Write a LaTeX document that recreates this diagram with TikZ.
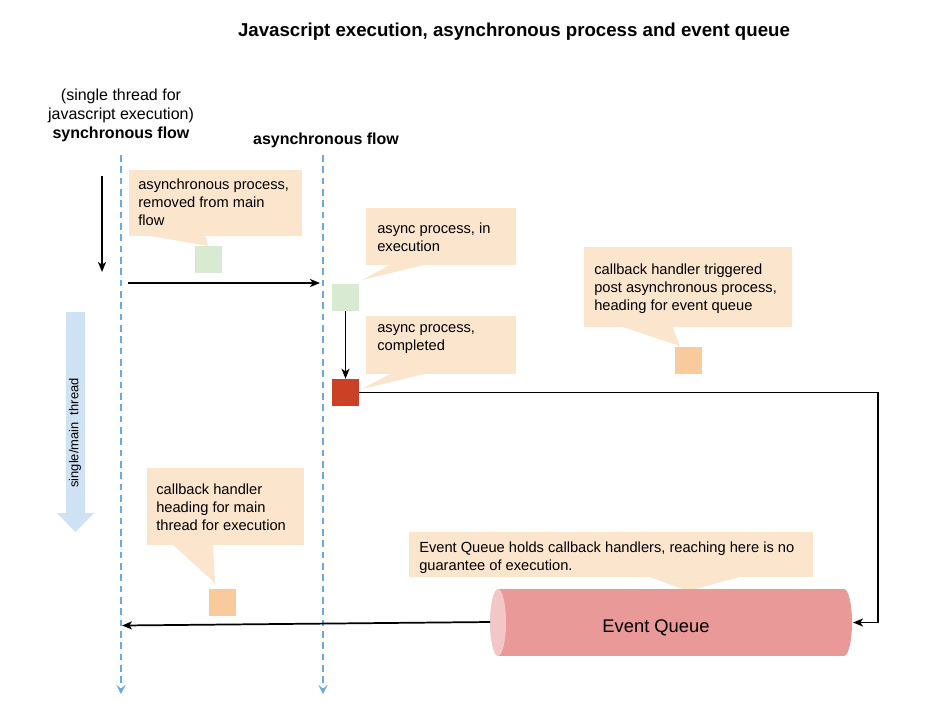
\documentclass[tikz,border=0pt]{standalone}
\usepackage{fontspec}
\setmainfont{Liberation Sans}
\usetikzlibrary{arrows.meta}

\definecolor{notefill}{HTML}{FCE5CD}
\definecolor{runfill}{HTML}{D9EAD3}
\definecolor{donefill}{HTML}{CC4125}
\definecolor{cbfill}{HTML}{F9CB9C}
\definecolor{lanecol}{HTML}{6FA8DC}
\definecolor{threadcol}{HTML}{CFE2F3}
\definecolor{queuebody}{HTML}{EA9999}
\definecolor{queueface}{HTML}{F4C7C7}

\begin{document}
\begin{tikzpicture}[x=0.75pt, y=-0.75pt,
        flow/.style={line width=1.3pt, -{Stealth[length=7.5pt, width=6pt, inset=2pt]}},
        lane/.style={draw=lanecol, line width=1.2pt, dash pattern=on 5pt off 3.5pt,
            -{Stealth[length=7pt, width=7pt, inset=3pt]}},
        notetext/.style={inner sep=0pt, anchor=north west, align=left,
            font=\fontsize{11}{13.5}\selectfont, execute at begin node=\strut},
        blk/.style={minimum size=20.25pt, inner sep=0pt}]
            \fill[white] (0, 0) rectangle (952, 715);
            \useasboundingbox (0, 0) rectangle (952, 715);

            \node[font=\bfseries\fontsize{14}{16}\selectfont] (title) at (514, 32)
                {Javascript execution, asynchronous process and event queue};
            \node[align=center, font=\fontsize{12}{14.25}\selectfont] (syncflow) at (121, 115)
                {(single thread for\\javascript execution)\\\textbf{synchronous flow}};
            \node[font=\bfseries\fontsize{12}{14}\selectfont] (asyncflow) at (326, 140)
                {asynchronous flow};

            \foreach \x in {121, 323} {
                \draw[lane] (\x, 155) -- (\x, 694);
            }

            \fill[threadcol] (66, 312) -- (85, 312) -- (85, 513) -- (94, 513)
                -- (75.5, 532) -- (57, 513) -- (66, 513) -- cycle;
            \node[rotate=90, font=\fontsize{9.7}{11}\selectfont] (thread) at (75, 433)
                {single/main~ thread};

            % callouts
            \fill[notefill] (129, 170) rectangle (302, 236);
            \fill[notefill] (145, 235) -- (208, 246) -- (205, 235) -- cycle;
            \node[notetext] (t1) at (138, 179)
                {asynchronous process,\\removed from main\\flow};

            \fill[notefill] (366, 208) rectangle (516, 265);
            \fill[notefill] (392, 264) -- (362, 280) -- (428, 264) -- cycle;
            \node[notetext] (t2) at (377, 223) {async process, in\\execution};

            \fill[notefill] (366, 316) rectangle (516, 374);
            \fill[notefill] (392, 373) -- (362, 389) -- (428, 373) -- cycle;
            \node[notetext] (t3) at (377, 324) {async process,\\completed};

            \fill[notefill] (584, 247) rectangle (792, 327);
            \fill[notefill] (620, 326) -- (680, 346) -- (672, 326) -- cycle;
            \node[notetext] (t4) at (594, 264)
                {callback handler triggered\\post asynchronous process,\\heading for event queue};

            \fill[notefill] (147, 468) rectangle (304, 545);
            \fill[notefill] (172, 544) -- (215, 583) -- (213, 544) -- cycle;
            \node[notetext] (t5) at (156, 484)
                {callback handler\\heading for main\\thread for execution};

            \fill[notefill] (409, 532) rectangle (813, 577);
            \fill[notefill] (647, 576) -- (688, 591) -- (743, 576) -- cycle;
            \node[notetext] (t6) at (419, 542)
                {Event Queue holds callback handlers, reaching here is no\\guarantee of execution.};

            % event queue
            \fill[queuebody] (498, 589) rectangle (844, 656);
            \fill[queuebody] (844, 622.5) ellipse [x radius=8, y radius=33.5];
            \fill[queueface] (498, 622.5) ellipse [x radius=8, y radius=33.5];
            \node[font=\fontsize{13.75}{16}\selectfont] (queue) at (656, 628) {Event Queue};
            \coordinate (eqL) at (490, 622);
            \coordinate (eqR) at (853, 622.5);

            \node[blk, fill=runfill] (g1) at (208.5, 259.5) {};
            \node[blk, fill=runfill] (g2) at (345.5, 297.5) {};
            \node[blk, fill=donefill] (done) at (345.5, 392.5) {};
            \node[blk, fill=cbfill] (cb1) at (688.5, 360.5) {};
            \node[blk, fill=cbfill] (cb2) at (222, 602.5) {};

            \coordinate (downA) at (102, 176);
            \coordinate (downB) at (102, 272);
            \coordinate (handA) at (128, 283);
            \coordinate (handB) at (320, 283);
            \coordinate (turn) at (878, 0);
            \coordinate (back) at (122, 625.5);

            \draw[flow] (downA) -- (downB);
            \draw[flow] (handA) -- (handB);
            \draw[flow] (g2.south) -- (done.north);
            \draw[flow] (done.east) -- (done.east -| turn) -- (turn |- eqR) -- (eqR);
            \draw[flow] (eqL) -- (back);
        \end{tikzpicture}
\end{document}
